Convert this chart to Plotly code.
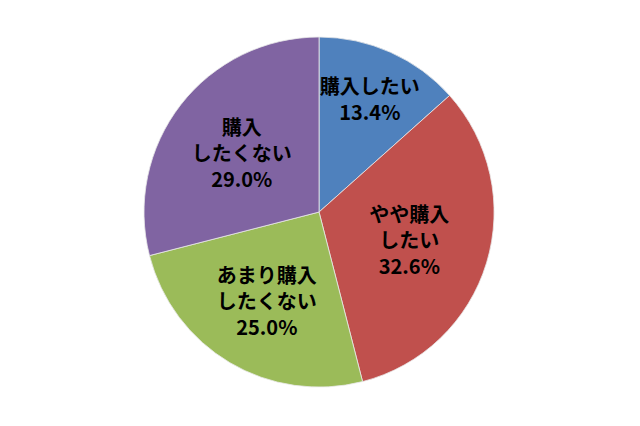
import plotly.graph_objects as go

labels = ["購入したい", "やや購入したい", "あまり購入したくない", "購入したくない"]
label_text = ["購入したい", "やや購入<br>したい", "あまり購入<br>したくない", "購入<br>したくない"]
values = [13.4, 32.6, 25.0, 29.0]
colors = ["#4F81BD", "#C0504D", "#9BBB59", "#8064A2"]

fig = go.Figure(go.Pie(
    labels=labels,
    values=values,
    text=label_text,
    texttemplate="%{text}<br>%{value:.1f}%",
    textposition="inside",
    insidetextorientation="horizontal",
    sort=False,
    direction="clockwise",
    rotation=0,
    marker=dict(colors=colors, line=dict(color="#e8e8e8", width=0.8)),
    textfont=dict(family="Noto Sans CJK JP", size=20, color="black", weight="bold"),
    showlegend=False,
    hoverinfo="label+percent",
    # page body has an 8px margin, so the domain is nudged up/left
    domain=dict(x=[0.2125, 0.7595], y=[0.110, 0.932]),
))

fig.update_layout(
    width=640, height=426,
    margin=dict(l=0, r=0, t=0, b=0),
    paper_bgcolor="white",
    uniformtext=dict(minsize=20, mode="show"),
)

fig.write_html("out.html")
